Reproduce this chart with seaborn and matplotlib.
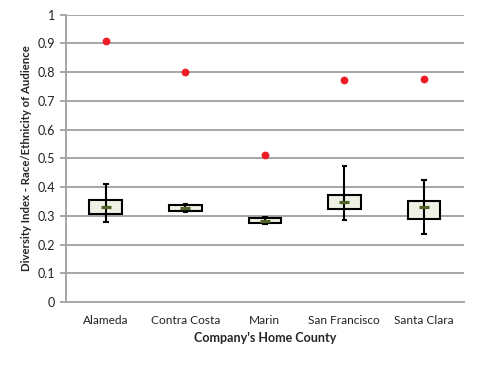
import numpy as np
import pandas as pd
import matplotlib
matplotlib.use("Agg")
import matplotlib.pyplot as plt
import seaborn as sns

counties = ["Alameda", "Contra Costa", "Marin", "San Francisco", "Santa Clara"]
county_index = [0.907, 0.800, 0.512, 0.771, 0.776]
whisker_low = [0.278, 0.314, 0.270, 0.286, 0.235]
q1 = [0.308, 0.317, 0.276, 0.324, 0.290]
means = [0.330, 0.326, 0.283, 0.349, 0.329]
q3 = [0.355, 0.338, 0.293, 0.373, 0.351]
whisker_high = [0.411, 0.340, 0.296, 0.474, 0.426]
yticks = [0, 0.1, 0.2, 0.3, 0.4, 0.5, 0.6, 0.7, 0.8, 0.9, 1]

sns.set_style("white")
plt.rcParams["font.family"] = ["Lato", "DejaVu Sans"]

fig = plt.figure(figsize=(4.79, 3.65), dpi=100)
ax = fig.add_axes([0.1378, 0.1726, 0.8302, 0.7871])

grid_c = "#A6A6A6"
for y in yticks[1:]:
    ax.axhline(y, color=grid_c, lw=1.4, zorder=0)

pos = np.arange(len(counties))
stats = [dict(med=m, q1=a, q3=b, whislo=a, whishi=b) for m, a, b in zip(means, q1, q3)]
ax.bxp(stats, positions=pos, widths=0.41, patch_artist=True, showcaps=False,
       showfliers=False,
       boxprops=dict(facecolor="#EEF1E3", edgecolor="black", linewidth=1.5),
       medianprops=dict(linewidth=0), whiskerprops=dict(linewidth=0),
       manage_ticks=False, zorder=2)

ax.vlines(pos, whisker_low, whisker_high, color="black", lw=1.5, zorder=3)
ax.hlines(whisker_low, pos - 0.035, pos + 0.035, color="black", lw=1.5, zorder=3)
ax.hlines(whisker_high, pos - 0.035, pos + 0.035, color="black", lw=1.5, zorder=3)

df = pd.DataFrame({"county": counties, "index": county_index, "mean": means})
sns.stripplot(data=df, x="county", y="index", color="#EE1C25", size=5.6,
              jitter=False, linewidth=0, zorder=5, ax=ax)
sns.stripplot(data=df, x="county", y="mean", color="#4F6228", marker="_", size=7.5,
              linewidth=2.3, jitter=False, zorder=4, ax=ax)

ax.set_xlim(-0.5, len(counties) - 0.5)
ax.set_ylim(0, 1)
ax.set_yticks(yticks)
ax.set_yticklabels([f"{v:g}" for v in yticks], fontsize=9, color="#222222")
ax.set_xticks(pos)
ax.set_xticklabels(counties, fontsize=8.6, color="#222222")
ax.set_xticks(np.arange(-0.5, len(counties)), minor=True)
ax.tick_params(axis="x", which="major", length=0, pad=9)
ax.tick_params(axis="x", which="minor", length=5, width=1.4, color=grid_c, direction="out")
ax.tick_params(axis="y", which="major", length=4.5, width=1.4, color=grid_c, direction="out",
               pad=3.5, left=True)

for s in ["top", "right"]:
    ax.spines[s].set_visible(False)
for s in ["left", "bottom"]:
    ax.spines[s].set_color(grid_c)
    ax.spines[s].set_linewidth(1.4)

ax.set_xlabel("Company's Home County", fontsize=9, fontweight="bold", labelpad=5)
ax.set_ylabel("Diversity Index - Race/Ethnicity of Audience", fontsize=8.2,
              fontweight="bold")
ax.yaxis.set_label_coords(-0.085, 0.5)

fig.savefig("out.png", dpi=100)
